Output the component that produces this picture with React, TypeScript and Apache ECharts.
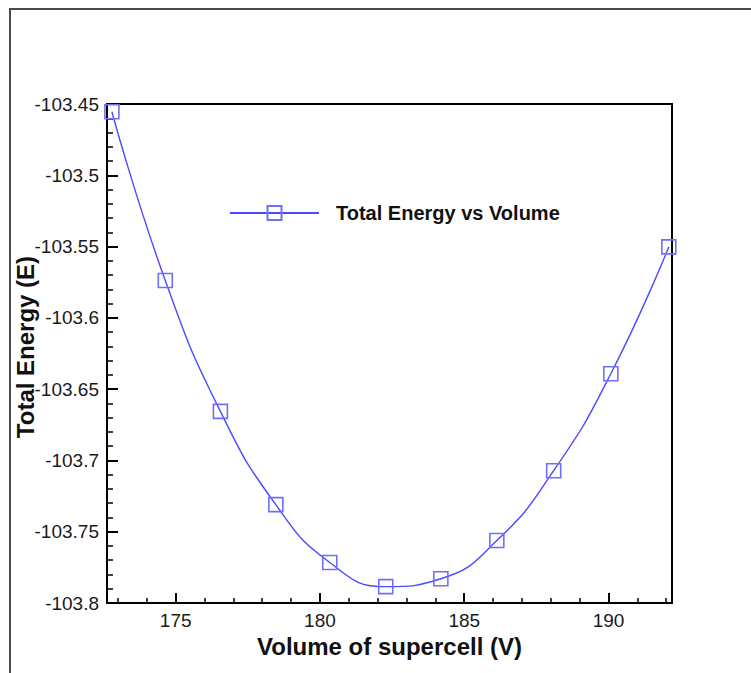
import React, { useEffect, useRef } from "react";
import * as echarts from "echarts";

const volumes = [172.79, 174.64, 176.55, 178.47, 180.34, 182.28, 184.19, 186.13, 188.1, 190.08, 192.09];
const energies = [-103.4554, -103.5738, -103.6656, -103.731, -103.7716, -103.7885, -103.783, -103.7562, -103.7072, -103.6392, -103.5502];
const xMajorTicks = [175, 180, 185, 190];
const xMinorTicks = [173, 174, 175, 176, 177, 178, 179, 180, 181, 182, 183, 184, 185, 186, 187, 188, 189, 190, 191, 192];
const yMajorTicks = [-103.8, -103.75, -103.7, -103.65, -103.6, -103.55, -103.5, -103.45];
const yMinorTicks: number[] = [];
for (let i = 0; i <= 35; i++) yMinorTicks.push(Number((-103.8 + i * 0.01).toFixed(2)));

const seriesName = "Total Energy vs Volume";
const xTitle = "Volume of supercell (V)";
const yTitle = "Total Energy (E)";

const FONT = "'Liberation Sans', Arial, sans-serif";

export default function App() {
  const ref = useRef<HTMLDivElement>(null);
  useEffect(() => {
    if (!ref.current) return;
    const chart = echarts.init(ref.current, undefined, { renderer: "svg" });
    const xMin = 172.62;
    const xMax = 192.2;
    const yMin = -103.8;
    const yMax = -103.45;
    const fmt = (v: number) => String(Number(v.toFixed(2)));
    chart.setOption({
      animation: false,
      backgroundColor: "#ffffff",
      grid: {
        left: 107,
        right: 79,
        top: 104,
        bottom: 70,
        show: true,
        borderColor: "#000",
        borderWidth: 2,
        backgroundColor: "transparent",
      },
      legend: {
        show: true,
        left: 224,
        top: 198,
        itemWidth: 89,
        itemHeight: 17.5,
        icon: undefined,
        textStyle: {
          fontFamily: FONT,
          fontSize: 20,
          fontWeight: "bold",
          color: "#111",
          padding: [0, 0, 0, 12],
        },
        data: [seriesName],
      },
      xAxis: [
        {
          type: "value",
          min: xMin,
          max: xMax,
          position: "bottom",
          axisLine: { show: true, lineStyle: { color: "#000", width: 2 } },
          axisTick: { show: true, inside: true, length: 10, customValues: xMajorTicks, lineStyle: { color: "#000", width: 2 } },
          axisLabel: {
            show: true,
            customValues: xMajorTicks,
            formatter: (v: number) => fmt(v),
            fontFamily: FONT,
            fontSize: 19,
            color: "#1a1a1a",
            margin: 8,
          },
          splitLine: { show: false },
          name: xTitle,
          nameLocation: "middle",
          nameGap: 25,
          nameTextStyle: { fontFamily: FONT, fontSize: 24, fontWeight: "bold", color: "#111" },
        },
        {
          type: "value",
          min: xMin,
          max: xMax,
          position: "bottom",
          axisLine: { show: false },
          axisTick: { show: true, inside: true, length: 5, customValues: xMinorTicks, lineStyle: { color: "#000", width: 1.5 } },
          axisLabel: { show: false },
          splitLine: { show: false },
        },
      ],
      yAxis: [
        {
          type: "value",
          min: yMin,
          max: yMax,
          position: "left",
          axisLine: { show: true, lineStyle: { color: "#000", width: 2 } },
          axisTick: { show: true, inside: true, length: 11, customValues: yMajorTicks, lineStyle: { color: "#000", width: 2 } },
          axisLabel: {
            show: true,
            customValues: yMajorTicks,
            formatter: (v: number) => fmt(v),
            fontFamily: FONT,
            fontSize: 19,
            color: "#1a1a1a",
            margin: 8,
          },
          splitLine: { show: false },
        },
        {
          type: "value",
          min: yMin,
          max: yMax,
          position: "left",
          axisLine: { show: false },
          axisTick: { show: true, inside: true, length: 6, customValues: yMinorTicks, lineStyle: { color: "#000", width: 1.5 } },
          axisLabel: { show: false },
          splitLine: { show: false },
        },
      ],
      graphic: [
        {
          type: "rect",
          shape: { x: 10, y: 9, width: 800, height: 700 },
          style: { fill: "none", stroke: "#4a4a4a", lineWidth: 2 },
          silent: true,
        },
        {
          type: "text",
          x: 25,
          y: 347,
          rotation: Math.PI / 2,
          style: {
            text: yTitle,
            fontFamily: FONT,
            fontSize: 24,
            fontWeight: "bold",
            fill: "#111",
            align: "center",
            verticalAlign: "middle",
          },
        },
      ],
      series: [
        {
          name: seriesName,
          type: "line",
          xAxisIndex: 0,
          yAxisIndex: 0,
          data: volumes.map((v, i) => [v, energies[i]]),
          smooth: 0.5,
          symbol: "rect",
          symbolSize: 14,
          showAllSymbol: true,
          lineStyle: { color: "#4a4aff", width: 1.4 },
          itemStyle: { color: "none", borderColor: "#6f6fff", borderWidth: 1.6 },
          emphasis: { disabled: true },
        },
      ],
    });
    return () => chart.dispose();
  }, []);
  return (
    <div
      ref={ref}
      style={{ position: "fixed", left: 0, top: 0, width: 751, height: 673, background: "#fff" }}
    />
  );
}
